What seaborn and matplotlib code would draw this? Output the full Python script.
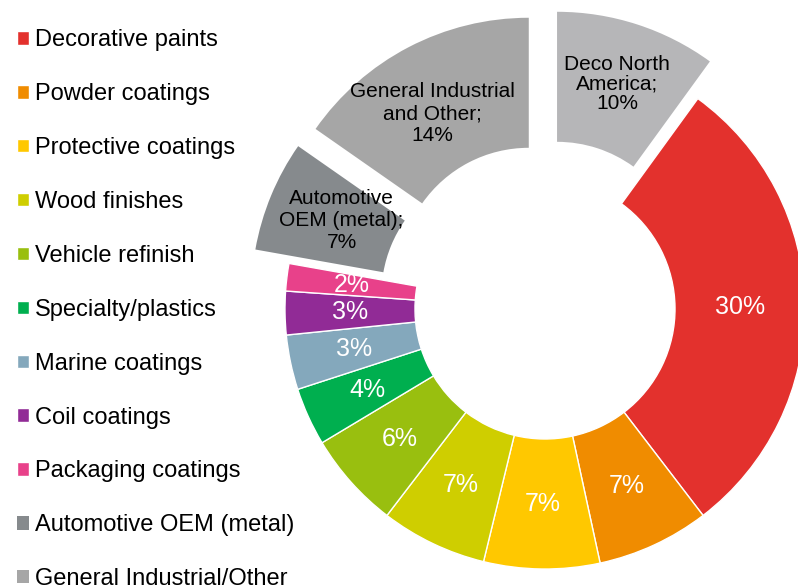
import matplotlib
matplotlib.use("Agg")
import matplotlib.pyplot as plt
import seaborn as sns

# ---- data (clockwise from 12 o'clock) ----
segments = ["Deco North America", "Decorative paints", "Powder coatings",
            "Protective coatings", "Wood finishes", "Vehicle refinish",
            "Specialty/plastics", "Marine coatings", "Coil coatings",
            "Packaging coatings", "Automotive OEM (metal)",
            "General Industrial/Other"]
# shares as drawn (angular size)
shares = [10.0, 29.6, 7.0, 7.2, 6.6, 6.0, 3.6, 3.4, 2.7, 1.7, 6.9, 15.3]
# labels printed on the slices
slice_labels = ["Deco North\nAmerica;\n10%", "30%", "7%", "7%", "7%", "6%",
                "4%", "3%", "3%", "2%", "Automotive\nOEM (metal);\n7%",
                "General Industrial\nand Other;\n14%"]
legend_labels = segments[1:]

colors = ["#B6B6B8", "#E3312D", "#F08C00", "#FFC800", "#CFCE00", "#99BF0F",
          "#00AF4F", "#84A8BC", "#912B96", "#E8418A", "#868A8D", "#A6A6A6"]
explode = [0.15, 0, 0, 0, 0, 0, 0, 0, 0, 0, 0.14, 0.135]
gray_idx = [0, 10, 11]
# small nudges of the gray slice captions (in units of the radius)
label_nudge = {0: (0.0, 0.01), 10: (0.04, 0.0), 11: (-0.025, -0.035)}
label_linespacing = {0: 1.05, 10: 1.2, 11: 1.2}

sns.set_theme(style="white")
plt.rcParams['font.family'] = ['Liberation Sans', 'DejaVu Sans']
plt.rcParams['text.color'] = 'black'

fig = plt.figure(figsize=(7.98, 5.88), dpi=100)
ax = fig.add_axes([0, 0, 1, 1])

_it = iter(slice_labels)
wedges, texts, autotexts = ax.pie(
    shares, colors=colors, explode=explode, startangle=90,
    counterclock=False, radius=1.0,
    wedgeprops=dict(width=0.5, edgecolor="white", linewidth=1.0),
    autopct=lambda p: next(_it), pctdistance=0.75)

for i, t in enumerate(autotexts):
    if i in gray_idx:
        t.set_color("black")
        t.set_fontsize(15)
        t.set_linespacing(label_linespacing[i])
        x, y = t.get_position()
        dx, dy = label_nudge[i]
        t.set_position((x + dx, y + dy))
        wedges[i].set_linewidth(0)
    else:
        t.set_color("white")
        t.set_fontsize(18)

ax.set_xlim(-2.096, 0.973)
ax.set_ylim(-1.073, 1.188)
ax.set_aspect("auto")
ax.axis("off")

leg = ax.legend(wedges[1:], legend_labels, loc="upper left",
                bbox_to_anchor=(0.0215, 0.950), bbox_transform=fig.transFigure,
                frameon=False, fontsize=17, handlelength=0.5, handleheight=0.5,
                handletextpad=0.25, labelspacing=1.35, borderpad=0,
                borderaxespad=0)
for txt in leg.get_texts():
    txt.set_color("black")

fig.savefig("out.png", dpi=100)
